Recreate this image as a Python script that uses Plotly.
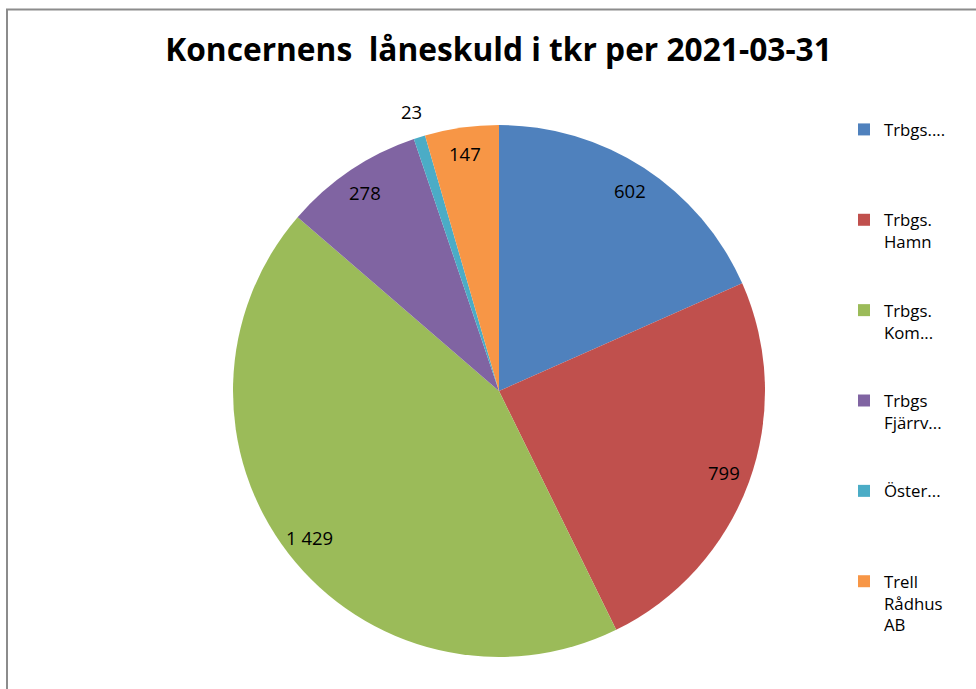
import math
import plotly.graph_objects as go

# ---- data ----
categories = ["Trbgs....", "Trbgs. Hamn", "Trbgs. Kom...", "Trbgs Fjärrv...", "Öster...", "Trell Rådhus AB"]
values = [602, 799, 1429, 278, 23, 147]
colors = ["#4F81BD", "#C0504D", "#9BBB59", "#8064A2", "#4BACC6", "#F79646"]
title_text = "Koncernens  låneskuld i tkr per 2021-03-31"

W, H = 976, 689
FONT = "Open Sans, Noto Sans, Liberation Sans, sans-serif"

# pie geometry (pixels)
cx, cy, R = 499, 391, 266
dom_x = [(cx - R) / W, (cx + R) / W]
dom_y = [1 - (cy + R) / H, 1 - (cy - R) / H]

# legend text: wrap at spaces, pad to a fixed number of lines
LINES = 4
def legend_text(name):
    parts = name.split(" ")
    parts = parts + ["&nbsp;"] * (LINES - len(parts))
    return "<br>".join(parts)

labels = [legend_text(c) for c in categories]

def fmt(v):
    return f"{v:,}".replace(",", " ")

fig = go.Figure(go.Pie(
    labels=labels,
    values=values,
    marker=dict(colors=colors, line=dict(width=0)),
    sort=False,
    direction="clockwise",
    rotation=0,
    textinfo="none",
    domain=dict(x=dom_x, y=dom_y),
    hovertemplate="%{value}<extra></extra>",
))

# data labels placed at the slice's mid angle (inside end, or outside for tiny slices)
total = sum(values)
annotations = []
cum = 0
for v in values:
    frac = v / total
    mid = (cum + v / 2) / total * 2 * math.pi
    cum += v
    r = R * (1.1 if frac < 0.02 else 0.9)
    px = cx + r * math.sin(mid)
    py = cy - r * math.cos(mid)
    annotations.append(dict(
        x=px / W, y=1 - py / H, xref="paper", yref="paper",
        text=fmt(v), showarrow=False,
        font=dict(family=FONT, size=18.5, color="#000000"),
        xanchor="center", yanchor="middle",
    ))

# chart border (top and left edges visible)
shapes = [
    dict(type="line", xref="paper", yref="paper", x0=6 / W, x1=1.01, y0=1 - 9.5 / H, y1=1 - 9.5 / H,
         line=dict(color="#8C8C8C", width=2)),
    dict(type="line", xref="paper", yref="paper", x0=7 / W, x1=7 / W, y0=1 - 9 / H, y1=-0.01,
         line=dict(color="#8C8C8C", width=2)),
]

fig.update_layout(
    width=W, height=H,
    margin=dict(l=0, r=0, t=0, b=0),
    paper_bgcolor="white",
    plot_bgcolor="white",
    title=dict(text=f"<b>{title_text}</b>", x=498.5 / W, xanchor="center",
               y=1 - 50 / H, yanchor="middle", yref="container",
               font=dict(family=FONT, size=31.7, color="#000000")),
    showlegend=True,
    legend=dict(x=(884 - 40) / W, xanchor="left", y=1 - 112 / H, yanchor="top",
                valign="top", font=dict(family=FONT, size=16.8, color="#000000"),
                bgcolor="rgba(0,0,0,0)", traceorder="normal"),
    annotations=annotations,
    shapes=shapes,
)

fig.write_html("out.html", config={"displayModeBar": False},
               post_script="document.body.style.margin='0';document.body.style.overflow='hidden';")
